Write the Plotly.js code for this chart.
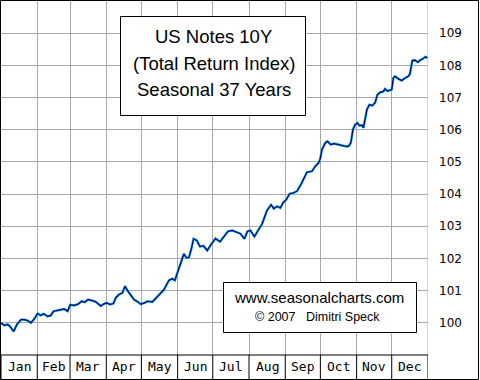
<!DOCTYPE html>
<html>
<head>
<meta charset="utf-8">
<script src="https://cdn.plot.ly/plotly-3.0.1.min.js"></script>
<style>html,body{margin:0;padding:0;background:#fff;}#chart{width:480px;height:380px;}</style>
</head>
<body>
<div id="chart"></div>
<script>
// ---- data ----
const months = ['Jan','Feb','Mar','Apr','May','Jun','Jul','Aug','Sep','Oct','Nov','Dec'];
const monthDays = [31,28,31,30,31,30,31,31,30,31,30,31];
const yTicks = [100,101,102,103,104,105,106,107,108,109];
const day = [0,2.8,5.7,7.9,10.8,13.6,17.1,19.9,22.8,25.6,28.4,31.3,34.1,36.4,39.8,42.6,44.9,48.4,51.2,54.0,56.9,59.1,62.5,65.9,68.8,71.6,74.4,77.3,81.0,85.3,88.1,90.4,93.2,96.1,98.1,100.9,103.8,106.0,108.0,110.9,113.7,117.1,119.4,122.8,125.1,129.4,132.2,135.0,139.3,143.5,146.4,148.6,150.7,153.5,156.3,158.6,160.6,162.6,164.6,167.4,170.1,173.1,176.3,179.5,183.4,187.2,190.6,194.0,197.6,201.9,204.7,208.1,210.6,213.2,216.6,220.3,223.2,227.3,230.9,233.2,236.0,238.8,241.3,243.9,246.7,250.1,253.0,256.4,258.7,261.5,265.8,268.6,271.5,272.9,274.3,277.2,279.1,281.8,284.8,287.7,291.4,295.1,297.2,299.1,300.8,302.7,304.7,306.4,308.5,309.8,311.3,312.7,314.9,317.4,319.8,321.8,324.1,326.9,328.3,330.3,332.6,334.0,335.4,336.9,339.7,342.6,345.4,348.2,349.6,351.6,353.9,356.3,358.2,361.0,362.9,364.4];
const index = [100.00,99.92,99.95,99.88,99.73,99.95,100.10,100.10,100.07,100.00,100.12,100.29,100.23,100.28,100.20,100.23,100.36,100.39,100.41,100.43,100.36,100.56,100.54,100.58,100.67,100.64,100.72,100.70,100.65,100.52,100.59,100.62,100.57,100.60,100.78,100.88,100.93,101.14,101.01,100.88,100.72,100.65,100.58,100.62,100.67,100.65,100.75,100.85,101.03,101.32,101.37,101.32,101.53,101.87,102.14,102.02,102.03,102.28,102.61,102.56,102.37,102.39,102.25,102.43,102.62,102.52,102.69,102.84,102.87,102.80,102.77,102.61,102.84,102.87,102.68,102.90,103.07,103.49,103.67,103.55,103.62,103.57,103.74,103.83,104.01,104.04,104.09,104.30,104.45,104.68,104.71,104.86,104.97,105.10,105.38,105.59,105.64,105.54,105.57,105.54,105.52,105.48,105.49,105.60,106.00,106.16,106.21,106.13,106.14,106.06,106.34,106.62,106.78,106.75,106.84,107.09,107.16,107.19,107.27,107.20,107.23,107.25,107.61,107.66,107.58,107.53,107.61,107.66,107.74,108.15,108.16,108.10,108.16,108.21,108.27,108.23];
const titleLines = ['US Notes 10Y','(Total Return Index)','Seasonal 37 Years'];
const creditLines = ['www.seasonalcharts.com','\u00a9 2007\u00a0\u00a0\u00a0Dimitri Speck'];

// ---- geometry helpers ----
const W = 480, H = 380;
const M = {l:1, r:52, t:1, b:25};
const PW = W - M.l - M.r, PH = H - M.t - M.b;
const px = v => (v - M.l) / PW;           // pixel x -> paper x
const py = v => (H - M.b - v) / PH;       // pixel y -> paper y

const bounds = [0];
monthDays.forEach((d,i) => bounds.push(bounds[i] + d));
const mids = months.map((m,i) => (bounds[i] + bounds[i+1]) / 2);

const shapes = [];
const annotations = [];
const black = {color:'#000', width:1};

// month band
shapes.push({type:'line', xref:'paper', yref:'paper', x0:px(0), x1:1, y0:0, y1:0, line:black, layer:'above'});
bounds.forEach(b => shapes.push({type:'line', xref:'x', yref:'paper', x0:b, x1:b, y0:0, y1:py(379.5), line:black, layer:'above'}));
// right gray edge line of plot
shapes.push({type:'line', xref:'x', yref:'paper', x0:365, x1:365, y0:0, y1:1, line:{color:'#a8a8a8', width:1}, layer:'below'});
// outer border
shapes.push({type:'rect', xref:'paper', yref:'paper', x0:px(0.5), x1:px(478.5), y0:py(379.5), y1:py(0.5), line:black, layer:'above'});
// title box
shapes.push({type:'rect', xref:'paper', yref:'paper', x0:px(120.5), x1:px(305.5), y0:py(115.5), y1:py(16.5), line:black, fillcolor:'#fff', layer:'above'});
// credit box
shapes.push({type:'rect', xref:'paper', yref:'paper', x0:px(223.5), x1:px(416.5), y0:py(332.5), y1:py(282.5), line:black, fillcolor:'#fff', layer:'above'});

months.forEach((m,i) => annotations.push({xref:'x', yref:'paper', x:mids[i], y:py(367), text:m, showarrow:false, xanchor:'center', yanchor:'middle', font:{family:'DejaVu Sans Mono', size:13, color:'#000'}}));

const titleY = [37, 64, 90];
titleLines.forEach((t,i) => annotations.push({xref:'paper', yref:'paper', x:px(213.5), y:py(titleY[i]), text:t, showarrow:false, xanchor:'center', yanchor:'middle', font:{family:'Liberation Sans, Arial', size:18.5, color:'#000'}}));

const creditY = [297.5, 316.5];
const creditSize = [15, 12.5];
creditLines.forEach((t,i) => annotations.push({xref:'paper', yref:'paper', x:px(i===0?319:317), y:py(creditY[i]), text:t, showarrow:false, xanchor:'center', yanchor:'middle', font:{family:'Liberation Sans, Arial', size:creditSize[i], color:'#000'}}));

const traces = [
  {x:day, y:index, type:'scatter', mode:'lines', line:{color:'#18b0c8', width:2.4}, hoverinfo:'skip'},
  {x:day, y:index, type:'scatter', mode:'lines', line:{color:'#000088', width:1.2}, hoverinfo:'skip'}
];

const layout = {
  width:W, height:H, margin:M, showlegend:false,
  paper_bgcolor:'#fff', plot_bgcolor:'#fff',
  xaxis:{range:[0,365], tickvals:bounds.slice(1,12), showticklabels:false, ticks:'', showgrid:true, gridcolor:'#a8a8a8', gridwidth:1, zeroline:false, showline:false, fixedrange:true},
  yaxis:{range:[99,110], side:'right', tickvals:[99,...yTicks,110], ticktext:['',...yTicks.map(String),''], ticks:'', ticklabelstandoff:10, showgrid:true, gridcolor:'#a8a8a8', gridwidth:1, zeroline:false, showline:false, tickfont:{family:'DejaVu Sans', size:12, color:'#000'}, fixedrange:true},
  shapes:shapes, annotations:annotations
};

Plotly.newPlot('chart', traces, layout, {staticPlot:true, displayModeBar:false});
</script>
</body>
</html>
